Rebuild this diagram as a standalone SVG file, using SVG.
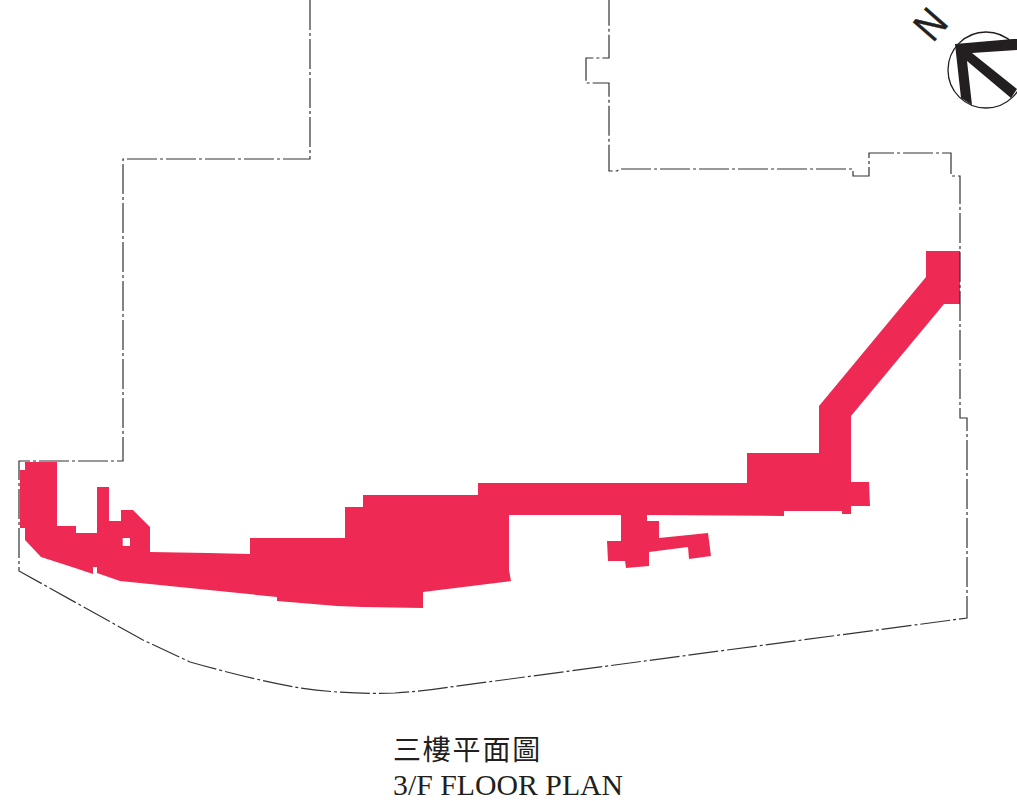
<svg xmlns="http://www.w3.org/2000/svg" width="1017" height="801" viewBox="0 0 1017 801">
<style>
.pink{fill:#ee2a54;fill-rule:evenodd}
.outline{fill:none;stroke:#333;stroke-width:1.2;stroke-dasharray:30 3 3 3}
.ink{fill:#231f20}
.zh{font-family:"Noto Sans CJK TC","Noto Sans CJK SC",serif;font-size:28px;font-weight:400;fill:#231f20;letter-spacing:1.800px}
.en{font-family:"Liberation Serif",serif;font-size:29.800px;fill:#231f20}
</style>
<rect width="1017" height="801" fill="#fff"/>
<path id="zone" class="pink" d="M25 462H57V526H76V533H97V487H109V521H121V510H133L150 527V552L208 553L250 554V538H345V507H363V495H478V483H747V453H819V406L926 277V251H960V304H944L851 416V482H869L870 506H851V514H842V511H784V516L647 515V521H659V538L708 533L711 556L689 559L688 547L649 552V566L626 568L625 561H608L607 541H621V515H509V570L511 581L423 592V608L362 607L337 606L277 601V597L120 581L97 573V567H93V574L72 567L41 557L25 540V528H20V470H25Z M122.700 538H130V546H122.700Z"/>
<path id="outline" class="outline" d="M310 0V159H123V461H19V571L143 640L190 662Q250 679 300 688Q350 695 395 693Q425 691 450 687L967 618V418H960V176H951V153H869V176H853V169H620L617 171H609V83H586V58H609V0"/>
<g id="compass">
<circle cx="986" cy="70" r="38" fill="#fff" stroke="#231f20" stroke-width="1.300"/>
<polygon class="ink" points="955,44 1013,39 1017,39 1017,50 972,53 1017,89 1011,98 967,61 972,105 961,98"/>
<text transform="translate(930 24) rotate(-48.600) scale(0.85 1) translate(-15 15)" font-family="Liberation Sans,sans-serif" font-size="42" fill="#231f20" stroke="#231f20" stroke-width="0.500">N</text>
</g>
<g id="title">
<text class="zh" x="393" y="760">三樓平面圖</text>
<text class="en" x="393" y="795">3/F FLOOR PLAN</text>
</g>
</svg>
